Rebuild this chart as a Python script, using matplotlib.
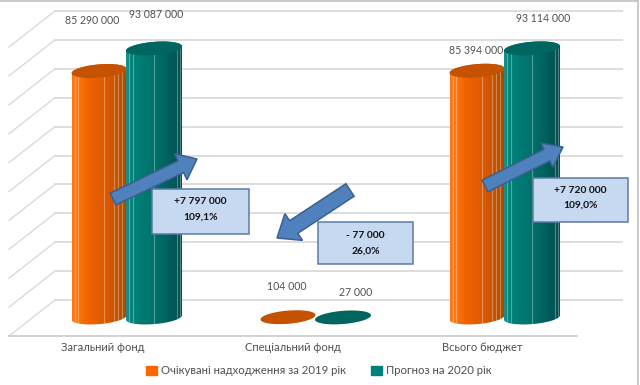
#!/usr/bin/env python3
import numpy as np
import matplotlib
matplotlib.use('Agg')
import matplotlib.pyplot as plt
import matplotlib.patches as mpatches
from matplotlib.colors import LinearSegmentedColormap

plt.rcParams['font.family'] = ['Lato', 'DejaVu Sans']

categories = ['Загальний фонд', 'Спеціальний фонд', 'Всього бюджет']
series_names = ['Очікувані надходження за 2019 рік', 'Прогноз на 2020 рік']
expected_2019 = [85290000, 104000, 85394000]
forecast_2020 = [93087000, 27000, 93114000]
grid_values = [0, 10000000, 20000000, 30000000, 40000000, 50000000,
               60000000, 70000000, 80000000, 90000000, 100000000]
changes = ['+7 797 000', '- 77 000', '+7 720 000']
percents = ['109,1%', '26,0%', '109,0%']


def fmt(v):
    return '{:,}'.format(v).replace(',', ' ')


W, H = 640, 385
X0, XSTEP = 126.0, 189.0      # pixels of the first group centre, group spacing
Y0, YSCALE = 317.5, 2.89e-6   # pixels of value 0, pixels per unit
BAR_W = 56.0 / XSTEP
HH = 6.6 / YSCALE
TILT = 2.2 / YSCALE

fig = plt.figure(figsize=(W / 100, H / 100), dpi=100)
ax = fig.add_axes([0, 0, 1, 1])
ax.set_axis_off()
xlim = (-X0 / XSTEP, (W - X0) / XSTEP)
ylim = ((Y0 - H) / YSCALE, Y0 / YSCALE)

# overlay in pixels for callouts and labels
ov = fig.add_axes([0, 0, 1, 1], zorder=5)
ov.set_axis_off()
ov.patch.set_alpha(0)
ov.set_xlim(0, W)
ov.set_ylim(H, 0)

# back wall, side wall and floor
back_lift = (Y0 - 300) / YSCALE
front_drop = (336 - Y0) / YSCALE
back_l, back_r = (55 - X0) / XSTEP, (622 - X0) / XSTEP
front_l, front_r = (9 - X0) / XSTEP, (577 - X0) / XSTEP
for v in grid_values:
    ax.plot([back_l, back_r], [v + back_lift] * 2, color='#dadada', lw=1.3, zorder=1)
    ax.plot([front_l, back_l], [v - front_drop, v + back_lift], color='#dadada', lw=1.0, zorder=1)
ax.plot([front_l, front_r], [-front_drop] * 2, color='#cfcfcf', lw=1.3, zorder=1)

t_low = np.linspace(np.pi, 2 * np.pi, 60)
t_up = np.linspace(0, np.pi, 60)
t_all = np.linspace(0, 2 * np.pi, 120)


def ellipse_pts(cx, v, t, bw):
    return np.column_stack([cx + bw / 2 * np.cos(t), v + HH * np.sin(t) + TILT * np.cos(t)])


def cylinder(cx, v, bw, cmap, top_color, stripes, z):
    if v > 1000000:
        body = np.vstack([ellipse_pts(cx, 0, t_low, bw), ellipse_pts(cx, v, t_up, bw)])
        clip = mpatches.Polygon(body, closed=True, transform=ax.transData, fc='none', ec='none')
        ax.add_patch(clip)
        grad = np.linspace(0, 1, 256).reshape(1, -1)
        im = ax.imshow(grad, cmap=cmap, aspect='auto', zorder=z, interpolation='bilinear',
                       extent=(cx - bw / 2, cx + bw / 2, -2 * HH, v + 2 * HH))
        im.set_clip_path(clip)
        for s in stripes:
            xs = cx - bw / 2 + s * bw
            ln, = ax.plot([xs, xs], [-2 * HH, v + 2 * HH], color='white', alpha=0.32, lw=0.8, zorder=z + 0.1)
            ln.set_clip_path(clip)
    ax.add_patch(mpatches.Polygon(ellipse_pts(cx, v, t_all, bw), closed=True, fc=top_color, ec='none', zorder=z + 0.2))


orange_map = LinearSegmentedColormap.from_list('o', [(0, '#f8791c'), (0.06, '#ff7a14'), (0.3, '#f06200'),
                                                     (0.65, '#d85800'), (0.88, '#b85000'), (1, '#a84800')])
teal_map = LinearSegmentedColormap.from_list('t', [(0, '#1c8f88'), (0.1, '#00847b'), (0.5, '#00716b'),
                                                   (0.8, '#005c5a'), (1, '#004b4b')])
orange_stripes = [0.06, 0.11, 0.59, 0.78, 0.85, 0.92]
teal_stripes = [0.05, 0.12, 0.5, 0.91, 0.97]

orange_w = 55.0 / XSTEP
for i in range(len(categories)):
    # left bar first so the right one covers it
    cylinder(i - orange_w / 2 + 0.5 / XSTEP, expected_2019[i], orange_w, orange_map, '#c45200', orange_stripes, 2 + i)
    cylinder(i + BAR_W / 2, forecast_2020[i], BAR_W, teal_map, '#00665f', teal_stripes, 2.5 + i)

ax.set_xlim(xlim)
ax.set_ylim(ylim)

# data labels, moved by hand as in the original
text_col = '#505050'
label_pos = [[(92, 20), (287, 286), (476, 51)], [(156, 15), (356, 292), (543, 18)]]
for vals, positions in zip([expected_2019, forecast_2020], label_pos):
    for v, (x, y) in zip(vals, positions):
        ov.text(x, y, fmt(v), ha='center', va='center', fontsize=7.6, color=text_col)

for name, x in zip(categories, [103, 293, 482]):
    ov.text(x, 347.5, name, ha='center', va='center', fontsize=8, color=text_col)

# arrows
for (x0, y0, x1, y1), width, head_w, head_l in [((113, 199, 197, 159), 13, 29, 18),
                                                ((350, 190, 277, 238), 15, 32, 20),
                                                ((485, 186, 563, 147), 13, 27, 18)]:
    ov.add_patch(mpatches.FancyArrow(x0, y0, x1 - x0, y1 - y0, width=width, head_width=head_w,
                                     head_length=head_l, length_includes_head=True,
                                     fc='#4f81bd', ec='#3a6090', lw=1.1))

# callout boxes
boxes = [(152, 189, 97, 45), (318, 222, 95, 42), (533, 178, 95, 44)]
line_y = [(202, 217), (236, 251), (190.5, 205)]
for (x, y, w, h), (y1, y2), change, pct in zip(boxes, line_y, changes, percents):
    ov.add_patch(mpatches.Rectangle((x, y), w, h, fc='#c6d9f1', ec='#5a7ba8', lw=1.1, zorder=3))
    ov.text(x + w / 2, y1, change, ha='center', va='center', fontsize=7.4,
            fontweight='bold', color='#111111', zorder=4)
    ov.text(x + w / 2, y2, pct, ha='center', va='center', fontsize=7.4,
            fontweight='bold', color='#111111', zorder=4)

handles = [mpatches.Patch(color='#ff6600', label=series_names[0]),
           mpatches.Patch(color='#00807a', label=series_names[1])]
ov.legend(handles=handles, loc='center', bbox_to_anchor=(318.5 / W, 1 - 371 / H), ncol=2, frameon=False,
          fontsize=8.2, handlelength=0.95, handleheight=0.95, handletextpad=0.35, columnspacing=2.2,
          labelcolor=text_col, borderpad=0, borderaxespad=0)

# chart frame, only top and right show
ov.plot([0, 637], [0.5, 0.5], color='#c8c8c8', lw=1.4, clip_on=False)
ov.plot([637.5, 637.5], [0, H], color='#c8c8c8', lw=1.4, clip_on=False)

fig.savefig('out.png', dpi=100)
